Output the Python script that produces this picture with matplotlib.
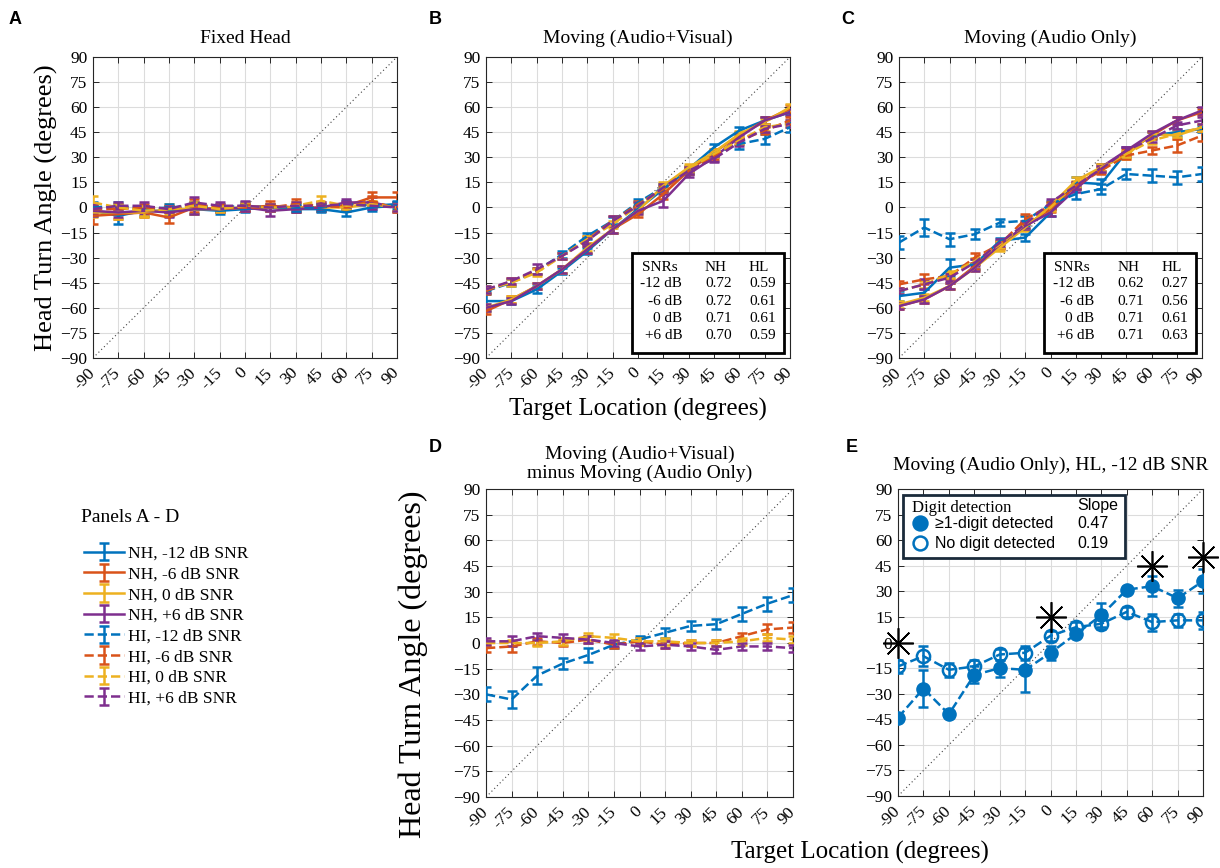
import matplotlib
matplotlib.use("Agg")
import matplotlib.pyplot as plt
from matplotlib.patches import Rectangle
import numpy as np

plt.rcParams['font.family'] = ['Liberation Serif', 'DejaVu Serif']

# target locations (degrees)
targets = [-90, -75, -60, -45, -30, -15, 0, 15, 30, 45, 60, 75, 90]
ticks = [-90, -75, -60, -45, -30, -15, 0, 15, 30, 45, 60, 75, 90]

labels = ['NH, -12 dB SNR', 'NH, -6 dB SNR', 'NH, 0 dB SNR', 'NH, +6 dB SNR',
          'HI, -12 dB SNR', 'HI, -6 dB SNR', 'HI, 0 dB SNR', 'HI, +6 dB SNR']
colors = ['#0072BD', '#D95319', '#EDB120', '#7E2F8E']

# panel A: fixed head
fixed_nh12 = [-2, -5, -2, -2, -1, -2, -1, 0, -1, -1, -3, 0, 1]
fixed_nh6 = [-5, -4, -3, -6, 0, -1, 0, 1, 0, 0, 1, 6, 6]
fixed_nh0 = [-3, -3, -3, -1, -1, -1, 0, 0, 0, 0, 0, 2, 0]
fixed_nhp6 = [-2, -3, -2, -3, -1, -1, 0, -2, -1, 0, 3, 3, 0]
fixed_hi12 = [0, 1, -1, 0, 1, 0, 1, 0, 0, 0, 2, 1, 2]
fixed_hi6 = [-1, -1, 0, -1, 2, 0, 0, 0, 2, 1, 0, 4, -1]
fixed_hi0 = [3, 0, -2, -1, 1, -1, 1, 0, 1, 4, 1, 2, 0]
fixed_hip6 = [-1, 1, 1, -1, 3, 1, 1, 0, 1, 1, 2, 1, 0]
fixed_err_nh12 = [3, 5, 3, 3, 3, 2, 2, 2, 2, 2, 2, 2, 2]
fixed_err_nh6 = [5, 3, 3, 3, 3, 2, 2, 3, 3, 2, 2, 3, 3]
fixed_err_nh0 = [3, 4, 3, 3, 3, 2, 2, 2, 2, 2, 2, 2, 2]
fixed_err_nhp6 = [3, 3, 2, 3, 3, 2, 2, 3, 2, 2, 2, 3, 3]
fixed_err_hi12 = [3, 2, 2, 2, 2, 2, 2, 2, 2, 2, 2, 2, 2]
fixed_err_hi6 = [3, 3, 2, 2, 3, 2, 2, 2, 3, 2, 2, 3, 2]
fixed_err_hi0 = [4, 2, 3, 2, 2, 2, 2, 2, 2, 3, 2, 2, 2]
fixed_err_hip6 = [3, 2, 2, 2, 3, 2, 3, 2, 2, 2, 2, 2, 2]

# panel B: moving, audio + visual
av_nh12 = [-56, -56, -49, -38, -26, -13, -1, 11, 23, 36, 46, 52, 57]
av_nh6 = [-62, -55, -47, -37, -25, -13, -4, 8, 22, 33, 43, 52, 59]
av_nh0 = [-60, -55, -47, -37, -24, -13, -2, 13, 24, 33, 44, 51, 60]
av_nhp6 = [-60, -56, -47, -37, -25, -13, -2, 4, 20, 30, 42, 52, 57]
av_hi12 = [-50, -45, -38, -28, -17, -8, 3, 12, 22, 32, 38, 41, 48]
av_hi6 = [-50, -44, -38, -29, -19, -8, 2, 11, 22, 31, 40, 46, 52]
av_hi0 = [-49, -45, -39, -29, -19, -10, 1, 12, 23, 32, 40, 48, 50]
av_hip6 = [-49, -44, -37, -29, -20, -8, 1, 12, 22, 29, 39, 47, 50]
av_err_nh12 = [6, 2, 2, 2, 2, 2, 2, 2, 2, 2, 2, 2, 2]
av_err_nh6 = [2, 2, 2, 2, 2, 2, 2, 3, 2, 2, 2, 2, 2]
av_err_nh0 = [2, 2, 2, 2, 2, 2, 2, 2, 2, 2, 2, 2, 2]
av_err_nhp6 = [2, 2, 2, 2, 2, 2, 2, 4, 2, 2, 2, 2, 2]
av_err_hi12 = [2, 2, 2, 2, 2, 2, 2, 2, 2, 2, 3, 3, 3]
av_err_hi6 = [2, 2, 2, 2, 2, 3, 2, 2, 2, 2, 2, 2, 2]
av_err_hi0 = [2, 2, 2, 2, 2, 2, 2, 2, 2, 2, 2, 2, 2]
av_err_hip6 = [2, 2, 3, 2, 2, 3, 2, 2, 2, 2, 2, 2, 2]

# panel C: moving, audio only
ao_nh12 = [-53, -51, -36, -34, -20, -18, -3, 15, 14, 33, 43, 45, 47]
ao_nh6 = [-59, -55, -47, -35, -23, -11, -1, 13, 23, 33, 43, 52, 57]
ao_nh0 = [-58, -54, -47, -36, -24, -12, 1, 16, 24, 31, 44, 43, 48]
ao_nhp6 = [-59, -55, -47, -36, -22, -11, -3, 11, 24, 34, 44, 52, 58]
ao_hi12 = [-21, -12, -19, -16, -9, -8, 2, 8, 11, 20, 19, 18, 20]
ao_hi6 = [-46, -43, -41, -30, -22, -7, 1, 13, 22, 31, 34, 37, 43]
ao_hi0 = [-50, -46, -40, -32, -22, -10, 0, 14, 24, 32, 40, 44, 48]
ao_hip6 = [-50, -46, -42, -33, -21, -10, 3, 13, 23, 34, 41, 49, 52]
ao_err_nh12 = [3, 2, 5, 3, 2, 2, 2, 3, 3, 3, 2, 2, 2]
ao_err_nh6 = [2, 2, 2, 2, 2, 2, 2, 2, 2, 2, 2, 2, 2]
ao_err_nh0 = [2, 2, 2, 2, 2, 2, 2, 2, 2, 2, 2, 2, 2]
ao_err_nhp6 = [2, 2, 2, 2, 2, 2, 2, 2, 2, 2, 2, 2, 2]
ao_err_hi12 = [4, 5, 4, 3, 2, 3, 2, 3, 3, 3, 4, 4, 4]
ao_err_hi6 = [2, 3, 2, 3, 2, 3, 2, 2, 2, 2, 2, 4, 3]
ao_err_hi0 = [2, 2, 2, 2, 2, 2, 2, 2, 2, 2, 2, 2, 2]
ao_err_hip6 = [2, 3, 2, 2, 2, 2, 2, 2, 2, 2, 2, 2, 2]

# panel D: audio+visual minus audio only (HI groups)
diff_hi12 = [-30, -33, -19, -12, -7, -1, 2, 6, 10, 11, 17, 23, 28]
diff_hi6 = [-3, -2, 1, 0, 2, -1, 1, -1, 0, 0, 4, 8, 9]
diff_hi0 = [0, 0, 0, 1, 4, 3, 1, 1, 0, 0, 1, 3, 2]
diff_hip6 = [1, 1, 4, 3, 2, 0, -2, -1, -2, -4, -2, -2, -3]
diff_err_hi12 = [4, 5, 5, 3, 4, 2, 2, 3, 3, 3, 4, 4, 4]
diff_err_hi6 = [2, 3, 2, 2, 2, 2, 2, 2, 2, 2, 2, 3, 3]
diff_err_hi0 = [2, 2, 2, 2, 2, 2, 2, 2, 2, 2, 2, 2, 2]
diff_err_hip6 = [2, 3, 2, 2, 2, 2, 2, 2, 2, 2, 2, 2, 2]

# panel E: HL, -12 dB SNR, split by digit detection
detected = [-44, -27, -42, -19, -15, -16, -6, 5, 16, 31, 33, 26, 36]
detected_err = [1, 11, 2, 5, 5, 13, 4, 2, 7, 2, 6, 5, 7]
not_detected = [-14, -8, -16, -14, -7, -6, 4, 9, 11, 18, 12, 13, 13]
not_detected_err = [4, 6, 4, 4, 3, 4, 3, 3, 3, 3, 5, 4, 5]
sig_x = [-90, 0, 60, 90]
sig_y = [0, 15, 45, 50]

snr_rows = ['-12 dB', '-6 dB', '0 dB', '+6 dB']
av_nh_slopes = ['0.72', '0.72', '0.71', '0.70']
av_hl_slopes = ['0.59', '0.61', '0.61', '0.59']
ao_nh_slopes = ['0.62', '0.71', '0.71', '0.71']
ao_hl_slopes = ['0.27', '0.56', '0.61', '0.63']
digit_labels = ['\u22651-digit detected', 'No digit detected']
digit_slopes = ['0.47', '0.19']

fig = plt.figure(figsize=(12.2, 8.68), dpi=100)

def make_ax(rect):
    ax = fig.add_axes(rect)
    ax.set_xlim(-90, 90)
    ax.set_ylim(-90, 90)
    ax.set_xticks(ticks)
    ax.set_yticks(ticks)
    ax.set_xticklabels([str(t) for t in ticks], rotation=45, ha='right',
                       va='center', rotation_mode='anchor')
    ax.tick_params(direction='in', top=True, right=True, length=4,
                   width=0.7, labelsize=12.5, color='#262626', pad=4)
    ax.tick_params(axis='x', pad=9)
    ax.grid(True, color='#dcdcdc', lw=0.8)
    ax.set_axisbelow(True)
    for s in ax.spines.values():
        s.set_color('#262626')
        s.set_linewidth(0.8)
    ax.plot([-90, 90], [-90, 90], ls=(0, (1, 2.5)), color='0.25', lw=0.8, zorder=1)
    return ax

def draw_groups(ax, series, errs, styles):
    handles = []
    for (y, e, (c, ls)) in zip(series, errs, styles):
        h = ax.errorbar(targets, y, yerr=e, color=c, ls=ls, lw=1.8,
                        capsize=3.5, capthick=1.8, elinewidth=1.8, zorder=3)
        handles.append(h)
    return handles

styles8 = [(c, '-') for c in colors] + [(c, '--') for c in colors]

def slope_box(ax, nh, hl):
    ax.add_patch(Rectangle((0.48, 0.017), 0.5, 0.332, transform=ax.transAxes,
                           fc='white', ec='black', lw=2, zorder=5))
    ys = [0.302, 0.246, 0.188, 0.131, 0.074]
    kw = dict(transform=ax.transAxes, fontsize=11, va='center', zorder=6)
    ax.text(0.513, ys[0], 'SNRs', ha='left', **kw)
    ax.text(0.72, ys[0], 'NH', ha='left', **kw)
    ax.text(0.865, ys[0], 'HL', ha='left', **kw)
    for i in range(4):
        ax.text(0.645, ys[i + 1], snr_rows[i], ha='right', **kw)
        ax.text(0.72, ys[i + 1], nh[i], ha='left', **kw)
        ax.text(0.865, ys[i + 1], hl[i], ha='left', **kw)

# A
axA = make_ax([0.0762, 0.5876, 0.2492, 0.3468])
hA = draw_groups(axA, [fixed_nh12, fixed_nh6, fixed_nh0, fixed_nhp6,
                       fixed_hi12, fixed_hi6, fixed_hi0, fixed_hip6],
                 [fixed_err_nh12, fixed_err_nh6, fixed_err_nh0, fixed_err_nhp6,
                  fixed_err_hi12, fixed_err_hi6, fixed_err_hi0, fixed_err_hip6], styles8)
axA.set_title('Fixed Head', fontsize=14, pad=10)
axA.set_ylabel('Head Turn Angle (degrees)', fontsize=19, labelpad=2)

# B
axB = make_ax([0.3984, 0.5876, 0.2492, 0.3468])
draw_groups(axB, [av_nh12, av_nh6, av_nh0, av_nhp6, av_hi12, av_hi6, av_hi0, av_hip6],
            [av_err_nh12, av_err_nh6, av_err_nh0, av_err_nhp6,
             av_err_hi12, av_err_hi6, av_err_hi0, av_err_hip6], styles8)
axB.set_title('Moving (Audio+Visual)', fontsize=14, pad=10)
axB.set_xlabel('Target Location (degrees)', fontsize=18, labelpad=4)
slope_box(axB, av_nh_slopes, av_hl_slopes)

# C
axC = make_ax([0.7369, 0.5876, 0.2484, 0.3468])
draw_groups(axC, [ao_nh12, ao_nh6, ao_nh0, ao_nhp6, ao_hi12, ao_hi6, ao_hi0, ao_hip6],
            [ao_err_nh12, ao_err_nh6, ao_err_nh0, ao_err_nhp6,
             ao_err_hi12, ao_err_hi6, ao_err_hi0, ao_err_hip6], styles8)
axC.set_title('Moving (Audio Only)', fontsize=14, pad=10)
slope_box(axC, ao_nh_slopes, ao_hl_slopes)

# D
axD = make_ax([0.3984, 0.0818, 0.2516, 0.3548])
draw_groups(axD, [diff_hi12, diff_hi6, diff_hi0, diff_hip6],
            [diff_err_hi12, diff_err_hi6, diff_err_hi0, diff_err_hip6],
            [(c, '--') for c in colors])
axD.set_title('Moving (Audio+Visual)\nminus Moving (Audio Only)', fontsize=14,
              pad=8, linespacing=1.1)
axD.set_ylabel('Head Turn Angle (degrees)', fontsize=23)
axD.yaxis.set_label_coords(-0.19, 0.43)

# E
axE = make_ax([0.7361, 0.0829, 0.2500, 0.3537])
blue = colors[0]
axE.errorbar(targets, detected, yerr=detected_err, color=blue, ls='--', lw=1.8,
             marker='o', ms=9.5, mfc=blue, mec=blue, capsize=3.5, capthick=1.8,
             elinewidth=1.8, zorder=3)
axE.errorbar(targets, not_detected, yerr=not_detected_err, color=blue, ls='--',
             lw=1.8, marker='o', ms=9.5, mfc='none', mec=blue, mew=1.8,
             capsize=3.5, capthick=1.8, elinewidth=1.8, zorder=3)
axE.plot(sig_x, sig_y, ls='none', marker=(8, 2, 0), ms=22, mew=1.2,
         color='black', zorder=4, clip_on=False)
axE.set_title('Moving (Audio Only), HL, -12 dB SNR', fontsize=14, pad=14)
axE.add_patch(Rectangle((0.016, 0.775), 0.728, 0.205, transform=axE.transAxes,
                        fc='white', ec='#1a2a3a', lw=2, zorder=5))
axE.text(0.046, 0.938, 'Digit detection', transform=axE.transAxes, fontsize=12,
         va='center', ha='left', zorder=6)
sans = ['Liberation Sans', 'DejaVu Sans']
axE.text(0.587, 0.945, 'Slope', transform=axE.transAxes, fontsize=11.5,
         va='center', ha='left', zorder=6, family=sans)
for i, (lab, sl) in enumerate(zip(digit_labels, digit_slopes)):
    yy = [0.889, 0.824][i]
    axE.plot([0.072], [yy], transform=axE.transAxes, marker='o', ms=10,
             mfc=blue if i == 0 else 'white', mec=blue, mew=1.8, zorder=6,
             clip_on=False)
    axE.text(0.121, yy, lab, transform=axE.transAxes, fontsize=11.5, va='center',
             ha='left', zorder=6, family=sans)
    axE.text(0.587, yy, sl, transform=axE.transAxes, fontsize=11.5, va='center',
             ha='left', zorder=6, family=sans)

fig.text(0.705, 0.018, 'Target Location (degrees)', fontsize=18, ha='center',
         va='center')

# legend for panels A - D
fig.text(0.066, 1 - 517 / 868, 'Panels A - D', fontsize=14, ha='left', va='center')
leg = fig.legend(hA, labels, loc='upper left', bbox_to_anchor=(0.062, 1 - 537 / 868),
                 frameon=False, fontsize=12.5, handlelength=2.3,
                 handletextpad=0.2, labelspacing=0.26, borderpad=0)

for lab, xx, yy in [('A', 0.012, 0.977), ('B', 0.357, 0.977), ('C', 0.695, 0.977),
                    ('D', 0.357, 0.485), ('E', 0.698, 0.485)]:
    fig.text(xx, yy, lab, fontsize=13, fontweight='bold', ha='center', va='center',
             family=sans)

fig.savefig('out.png', dpi=100)
